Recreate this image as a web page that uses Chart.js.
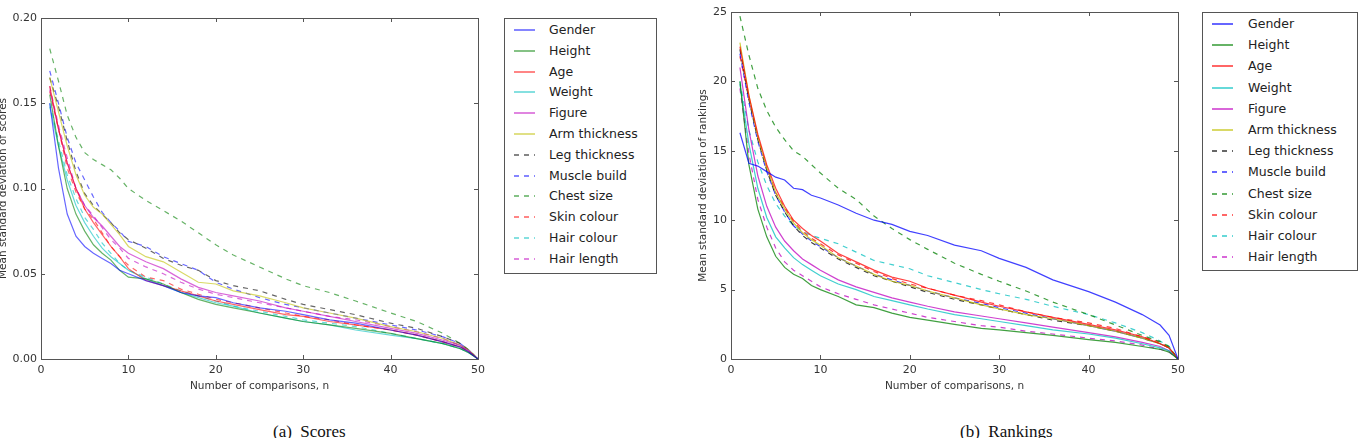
<!DOCTYPE html>
<html>
<head>
<meta charset="utf-8">
<script src="https://cdn.jsdelivr.net/npm/chart.js@4.4.1/dist/chart.umd.min.js"></script>
<style>
  body { margin: 0; background: #fff; width: 1363px; height: 438px; overflow: hidden; position: relative; font-family: "DejaVu Sans", sans-serif; }
  canvas { position: absolute; top: 0; }
  .legend { position: absolute; border: 1px solid #555; box-sizing: border-box; background: #fff; }
  .row { position: absolute; left: 0; width: 100%; font-size: 12.5px; color: #222; white-space: nowrap; }
  .swatch { position: absolute; left: 9px; width: 21px; height: 2px; }
  .row span.txt { position: absolute; }
  .cap { position: absolute; top: 422px; font-family: "Liberation Serif", serif; font-size: 17px; color: #111; }
</style>
</head>
<body>
<canvas id="scoresChart" width="490" height="400" style="left:0px"></canvas>
<canvas id="rankingsChart" width="500" height="400" style="left:690px"></canvas>
<div id="legendA" class="legend" style="left:504px;top:18px;width:153px;height:256px"></div>
<div id="legendB" class="legend" style="left:1202px;top:12px;width:156px;height:259px"></div>
<div class="cap" style="left:273px">(a)&nbsp; Scores</div>
<div class="cap" style="left:960px">(b)&nbsp; Rankings</div>
<script>
// number of comparisons sampled
const nVals = [1, 2, 3, 4, 5, 6, 7, 8, 9, 10, 12, 14, 16, 18, 20, 22, 25, 28, 30, 33, 36, 40, 43, 46, 48, 49, 50];

const attributes = ["Gender", "Height", "Age", "Weight", "Figure", "Arm thickness",
  "Leg thickness", "Muscle build", "Chest size", "Skin colour", "Hair colour", "Hair length"];
const lineColours = ["0,0,255", "0,128,0", "255,0,0", "0,191,191", "191,0,191", "191,191,0",
  "0,0,0", "0,0,255", "0,128,0", "255,0,0", "0,191,191", "191,0,191"];
const dashed = [false, false, false, false, false, false, true, true, true, true, true, true];

// (a) mean standard deviation of scores
const genderScores = [0.150, 0.112, 0.085, 0.072, 0.066, 0.062, 0.059, 0.056, 0.052, 0.050, 0.046, 0.043, 0.039, 0.037, 0.036, 0.033, 0.030, 0.028, 0.026, 0.023, 0.021, 0.017, 0.014, 0.010, 0.007, 0.004, 0];
const heightScores = [0.155, 0.125, 0.100, 0.085, 0.075, 0.067, 0.062, 0.058, 0.052, 0.048, 0.047, 0.044, 0.039, 0.035, 0.032, 0.030, 0.027, 0.024, 0.022, 0.020, 0.018, 0.015, 0.012, 0.009, 0.006, 0.0035, 0];
const ageScores = [0.160, 0.135, 0.115, 0.100, 0.088, 0.080, 0.073, 0.066, 0.060, 0.053, 0.046, 0.043, 0.040, 0.037, 0.034, 0.032, 0.029, 0.026, 0.025, 0.022, 0.020, 0.017, 0.014, 0.010, 0.007, 0.004, 0];
const weightScores = [0.148, 0.125, 0.105, 0.090, 0.080, 0.072, 0.065, 0.060, 0.056, 0.052, 0.047, 0.043, 0.039, 0.036, 0.033, 0.031, 0.027, 0.024, 0.022, 0.020, 0.017, 0.014, 0.012, 0.009, 0.006, 0.0035, 0];
const figureScores = [0.158, 0.135, 0.115, 0.100, 0.090, 0.083, 0.078, 0.072, 0.066, 0.062, 0.057, 0.053, 0.047, 0.042, 0.039, 0.037, 0.034, 0.030, 0.028, 0.025, 0.022, 0.018, 0.015, 0.011, 0.008, 0.0045, 0];
const armScores = [0.165, 0.145, 0.125, 0.108, 0.096, 0.089, 0.085, 0.079, 0.073, 0.066, 0.060, 0.057, 0.051, 0.045, 0.044, 0.040, 0.037, 0.033, 0.030, 0.027, 0.024, 0.019, 0.016, 0.012, 0.008, 0.005, 0];
const legScores = [0.165, 0.148, 0.128, 0.110, 0.097, 0.090, 0.085, 0.080, 0.074, 0.070, 0.065, 0.059, 0.055, 0.052, 0.046, 0.043, 0.040, 0.035, 0.032, 0.029, 0.026, 0.021, 0.018, 0.013, 0.009, 0.005, 0];
const muscleScores = [0.169, 0.150, 0.130, 0.115, 0.105, 0.095, 0.086, 0.080, 0.075, 0.069, 0.066, 0.060, 0.056, 0.052, 0.045, 0.041, 0.036, 0.032, 0.030, 0.027, 0.024, 0.020, 0.017, 0.013, 0.009, 0.005, 0];
const chestScores = [0.182, 0.163, 0.143, 0.130, 0.121, 0.117, 0.114, 0.111, 0.106, 0.100, 0.093, 0.087, 0.081, 0.074, 0.067, 0.061, 0.054, 0.047, 0.043, 0.039, 0.034, 0.027, 0.022, 0.015, 0.009, 0.005, 0];
const skinScores = [0.157, 0.135, 0.112, 0.098, 0.088, 0.082, 0.074, 0.066, 0.060, 0.055, 0.048, 0.046, 0.041, 0.038, 0.035, 0.033, 0.030, 0.027, 0.025, 0.023, 0.020, 0.017, 0.014, 0.010, 0.007, 0.004, 0];
const hairColourScores = [0.150, 0.128, 0.108, 0.094, 0.083, 0.076, 0.068, 0.062, 0.056, 0.052, 0.048, 0.044, 0.040, 0.037, 0.034, 0.031, 0.028, 0.025, 0.023, 0.021, 0.019, 0.015, 0.012, 0.009, 0.006, 0.0035, 0];
const hairLengthScores = [0.160, 0.137, 0.118, 0.100, 0.090, 0.084, 0.077, 0.070, 0.065, 0.059, 0.054, 0.050, 0.045, 0.041, 0.038, 0.036, 0.033, 0.030, 0.028, 0.025, 0.023, 0.019, 0.016, 0.012, 0.008, 0.0045, 0];

// (b) mean standard deviation of rankings
const genderRanks = [16.3, 14.1, 13.9, 13.5, 13.1, 12.9, 12.3, 12.2, 11.8, 11.6, 11.1, 10.5, 10.0, 9.7, 9.2, 8.9, 8.2, 7.8, 7.25, 6.6, 5.7, 4.85, 4.1, 3.2, 2.45, 1.7, 0];
const heightRanks = [20.0, 14.0, 10.8, 8.8, 7.4, 6.6, 6.1, 5.8, 5.3, 5.0, 4.5, 3.9, 3.7, 3.3, 3.0, 2.8, 2.5, 2.2, 2.1, 1.9, 1.7, 1.4, 1.2, 0.9, 0.7, 0.5, 0];
const ageRanks = [22.5, 19.0, 16.2, 14.0, 12.3, 11.0, 10.0, 9.4, 8.9, 8.5, 7.6, 7.0, 6.4, 5.9, 5.6, 5.1, 4.6, 4.1, 3.8, 3.4, 3.0, 2.5, 2.1, 1.6, 1.1, 0.8, 0];
const weightRanks = [19.8, 15.5, 12.3, 10.2, 8.8, 8.0, 7.3, 6.8, 6.4, 6.0, 5.4, 5.0, 4.5, 4.2, 3.9, 3.6, 3.2, 2.9, 2.7, 2.4, 2.1, 1.8, 1.5, 1.1, 0.8, 0.6, 0];
const figureRanks = [21.0, 16.5, 13.2, 11.0, 9.5, 8.5, 7.8, 7.2, 6.8, 6.4, 5.7, 5.2, 4.8, 4.4, 4.1, 3.8, 3.4, 3.1, 2.9, 2.6, 2.3, 1.9, 1.6, 1.2, 0.9, 0.6, 0];
const armRanks = [22.8, 19.0, 16.0, 13.8, 12.0, 10.8, 9.8, 9.1, 8.6, 8.2, 7.3, 6.7, 6.1, 5.6, 5.3, 4.9, 4.4, 3.9, 3.6, 3.2, 2.9, 2.4, 2.0, 1.5, 1.1, 0.8, 0];
const legRanks = [22.3, 18.7, 15.8, 13.6, 11.8, 10.6, 9.6, 8.9, 8.4, 8.0, 7.2, 6.6, 6.0, 5.6, 5.2, 4.8, 4.3, 3.9, 3.6, 3.2, 2.8, 2.4, 2.0, 1.5, 1.1, 0.8, 0];
const muscleRanks = [22.0, 18.5, 15.7, 13.5, 11.8, 10.6, 9.6, 9.0, 8.5, 8.1, 7.3, 6.7, 6.1, 5.7, 5.3, 4.9, 4.4, 4.0, 3.7, 3.3, 2.9, 2.4, 2.0, 1.5, 1.1, 0.8, 0];
const chestRanks = [24.7, 21.9, 19.5, 17.9, 16.7, 15.8, 15.0, 14.6, 14.0, 13.4, 12.3, 11.5, 10.3, 9.4, 8.6, 7.9, 6.9, 6.1, 5.6, 4.9, 4.1, 3.2, 2.45, 1.7, 1.25, 0.9, 0];
const skinRanks = [21.8, 18.8, 16.0, 13.8, 12.0, 10.9, 9.9, 9.2, 8.7, 8.3, 7.5, 6.9, 6.3, 5.8, 5.4, 5.1, 4.6, 4.2, 3.9, 3.4, 3.0, 2.6, 2.2, 1.6, 1.2, 0.8, 0];
const hairColourRanks = [20.0, 16.5, 14.2, 12.5, 11.2, 10.3, 9.6, 9.2, 8.9, 8.7, 8.3, 7.7, 7.1, 6.8, 6.5, 6.0, 5.5, 5.0, 4.7, 4.3, 3.8, 3.2, 2.6, 1.9, 1.3, 0.9, 0];
const hairLengthRanks = [19.5, 14.8, 11.5, 9.5, 8.0, 7.0, 6.4, 6.0, 5.6, 5.2, 4.7, 4.3, 3.9, 3.6, 3.3, 3.0, 2.7, 2.4, 2.3, 2.0, 1.8, 1.5, 1.3, 1.0, 0.7, 0.5, 0];

const scoreSeries = [genderScores, heightScores, ageScores, weightScores, figureScores, armScores,
  legScores, muscleScores, chestScores, skinScores, hairColourScores, hairLengthScores];
const rankSeries = [genderRanks, heightRanks, ageRanks, weightRanks, figureRanks, armRanks,
  legRanks, muscleRanks, chestRanks, skinRanks, hairColourRanks, hairLengthRanks];

const axisColour = "#555";
const tickFont = { family: "DejaVu Sans", size: 11 };
const titleFont = { family: "DejaVu Sans", size: 10.5 };

// matplotlib-style frame with inward ticks on all four sides
const framePlugin = {
  id: "frame",
  afterDraw(chart) {
    const { ctx, chartArea: a, scales } = chart;
    ctx.save();
    ctx.strokeStyle = axisColour;
    ctx.lineWidth = 1;
    ctx.strokeRect(Math.round(a.left) + 0.5, Math.round(a.top) + 0.5,
      Math.round(a.right - a.left), Math.round(a.bottom - a.top));
    ctx.beginPath();
    scales.x.ticks.forEach((t) => {
      const px = Math.round(scales.x.getPixelForValue(t.value)) + 0.5;
      ctx.moveTo(px, a.bottom); ctx.lineTo(px, a.bottom - 4);
      ctx.moveTo(px, a.top); ctx.lineTo(px, a.top + 4);
    });
    scales.y.ticks.forEach((t) => {
      const py = Math.round(scales.y.getPixelForValue(t.value)) + 0.5;
      ctx.moveTo(a.left, py); ctx.lineTo(a.left + 4, py);
      ctx.moveTo(a.right, py); ctx.lineTo(a.right - 4, py);
    });
    ctx.stroke();
    ctx.restore();
  },
};

function makeDatasets(series, alpha) {
  return series.map((vals, i) => ({
    label: attributes[i],
    data: nVals.map((n, j) => ({ x: n, y: vals[j] })),
    borderColor: "rgba(" + lineColours[i] + "," + alpha + ")",
    borderWidth: 1.2,
    borderDash: dashed[i] ? [5, 5] : [],
    pointRadius: 0,
    fill: false,
    tension: 0,
  }));
}

function makeChart(id, series, alpha, yMax, yStep, yDecimals, yTitle, yTitlePad, padTop, padRight) {
  return new Chart(document.getElementById(id).getContext("2d"), {
    type: "line",
    data: { datasets: makeDatasets(series, alpha) },
    options: {
      responsive: false,
      animation: false,
      layout: { padding: { top: padTop, right: padRight, left: 0, bottom: 0 } },
      plugins: { legend: { display: false }, tooltip: { enabled: false } },
      scales: {
        x: {
          type: "linear",
          min: 0,
          max: 50,
          grid: { display: false, drawTicks: false },
          border: { display: false },
          ticks: { stepSize: 10, padding: 5, color: "#333", font: tickFont, maxRotation: 0 },
          title: { display: true, text: "Number of comparisons, n", color: "#333", font: titleFont, padding: { top: 0, bottom: 7 } },
          afterFit: (s) => { s.height = 41; },
        },
        y: {
          min: 0,
          max: yMax,
          grid: { display: false, drawTicks: false },
          border: { display: false },
          ticks: { stepSize: yStep, padding: 4, color: "#333", font: tickFont,
            callback: (v) => Number(v).toFixed(yDecimals) },
          title: { display: true, text: yTitle, color: "#333", font: titleFont, padding: { top: yTitlePad, bottom: 0 } },
          afterFit: (s) => { s.width = 41; },
        },
      },
    },
    plugins: [framePlugin],
  });
}

function buildLegend(id, alpha, rowHeight, firstCentre, textLeft) {
  const box = document.getElementById(id);
  attributes.forEach((name, i) => {
    const centre = Math.round(firstCentre + i * rowHeight);
    const row = document.createElement("div");
    row.className = "row";
    row.style.top = (centre - 10) + "px";
    row.style.height = "20px";
    const sw = document.createElement("div");
    sw.className = "swatch";
    sw.style.top = "9px";
    const c = "rgba(" + lineColours[i] + "," + (alpha * 0.8) + ")";
    sw.style.background = dashed[i]
      ? "repeating-linear-gradient(to right, " + c + " 0 5px, transparent 5px 10px)"
      : c;
    const txt = document.createElement("span");
    txt.className = "txt";
    txt.textContent = name;
    txt.style.left = textLeft + "px";
    txt.style.lineHeight = "20px";
    row.appendChild(sw);
    row.appendChild(txt);
    box.appendChild(row);
  });
}

makeChart("scoresChart", scoreSeries, 0.6, 0.2, 0.05, 2, "Mean standard deviation of scores", -3, 18, 8);
makeChart("rankingsChart", rankSeries, 0.75, 25, 5, 0, "Mean standard deviation of rankings", 7, 12, 11);
buildLegend("legendA", 0.6, 20.8, 11, 44);
buildLegend("legendB", 0.75, 21.2, 11, 45);
</script>
</body>
</html>
